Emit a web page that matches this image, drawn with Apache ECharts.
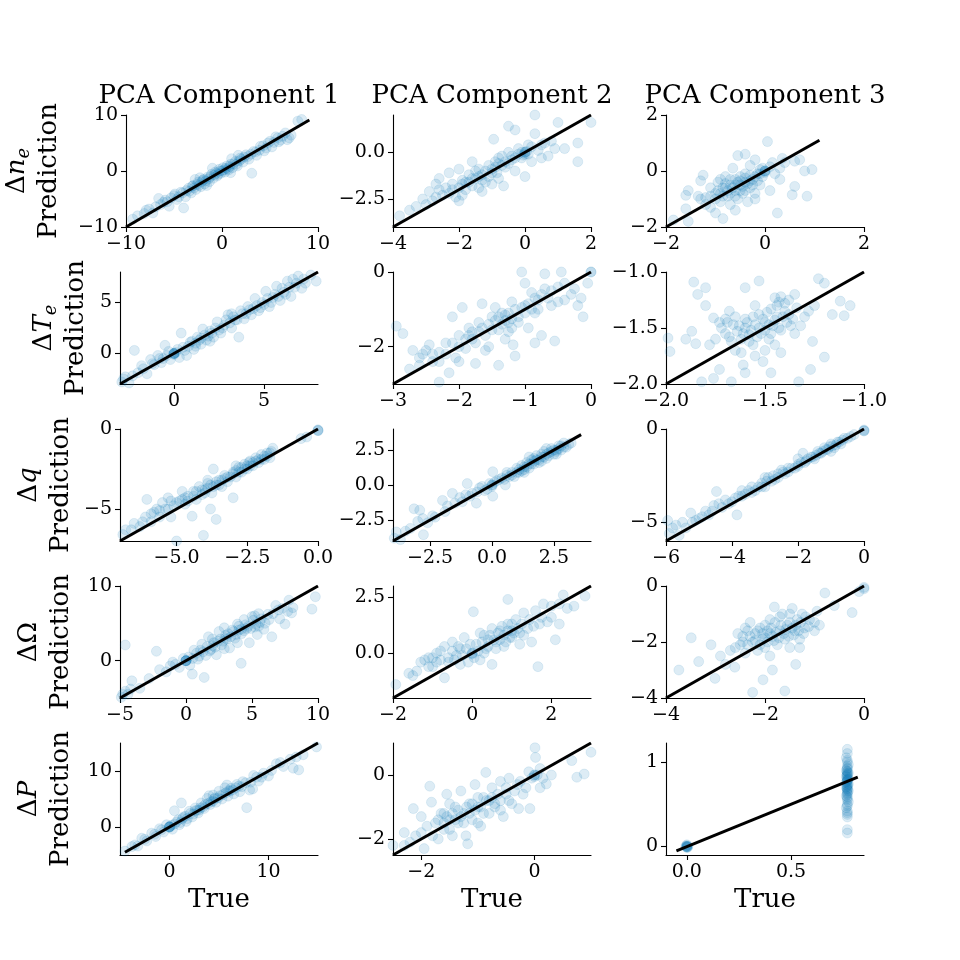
<!DOCTYPE html>
<html>
<head>
<meta charset="utf-8">
<script src="https://cdn.jsdelivr.net/npm/echarts@6/dist/echarts.min.js"></script>
<style>
  html, body { margin: 0; padding: 0; background: #fff; }
  #chart { width: 960px; height: 960px; }
</style>
</head>
<body>
<div id="chart"></div>
<script>
// column titles and row quantities
const colTitles = ['PCA Component 1', 'PCA Component 2', 'PCA Component 3']
const rowSymbols = ['n_e', 'T_e', 'q', 'Ω', 'P']

// [true, prediction] pairs (row = quantity, col = component)
const ne_pc1 = [[-9.3,-8.6],[-8.1,-7.6],[-7.6,-6.8],[-7.2,-7.5],[-6.6,-4.9],[-6.4,-6.0],[-5.9,-5.2],[-5.5,-6.3],[-5.0,-4.4],[-4.7,-5.1],[-4.3,-3.8],[-4.0,-6.6],[-3.8,-4.6],[-3.5,-3.1],[-3.2,-3.9],[-3.0,-2.6],[-2.8,-1.5],[-2.7,-3.3],[-2.5,-2.0],[-2.2,-2.8],[-2.0,-1.6],[-1.8,-2.3],[-1.5,-1.1],[-1.3,-1.9],[-1.1,-0.6],[-1.0,0.5],[-0.9,-1.3],[-0.7,-0.2],[-0.5,-0.9],[-0.3,0.3],[-0.1,-0.4],[0.0,0.0],[0.1,0.6],[0.3,-0.2],[0.5,0.9],[0.7,0.2],[0.9,1.2],[1.0,2.2],[1.1,0.6],[1.4,1.7],[1.6,0.9],[1.9,2.3],[2.2,1.6],[2.5,2.9],[2.8,2.1],[3.1,-0.4],[3.3,3.5],[3.6,2.8],[4.0,4.4],[4.4,3.6],[4.8,5.0],[5.2,4.3],[5.6,6.1],[5.9,5.2],[6.3,6.2],[6.8,5.6],[7.2,6.4],[7.9,8.9],[8.3,9.2],
  [-8.8,-8.0],[-7.9,-7.0],[-6.9,-6.4],[-6.1,-5.6],[-5.7,-5.5],[-5.3,-4.8],[-4.9,-4.1],[-4.5,-4.6],[-4.1,-3.9],[-3.7,-3.5],[-3.4,-3.6],[-3.1,-2.7],[-2.9,-3.0],[-2.6,-2.4],[-2.4,-2.6],[-2.1,-1.9],[-1.9,-1.5],[-1.7,-1.8],[-1.4,-1.4],[-1.2,-1.0],[-0.8,-0.7],[-0.6,-0.4],[-0.4,-0.6],[-0.2,0.0],[0.2,0.2],[0.4,0.5],[0.6,0.4],[0.8,0.8],[1.2,1.3],[1.5,1.2],[1.8,1.8],[2.0,2.1],[2.3,2.5],[2.7,2.6],[3.0,3.0],[3.5,3.4],[3.9,3.7],[4.3,4.5],[4.6,4.1],[5.0,5.3],[5.4,5.1],[5.8,5.9],[6.1,5.5],[6.6,6.8],[7.0,5.9],[-2.3,-1.2],[-1.6,-2.6],[0.9,-0.3],[1.7,2.8]]
const ne_pc2 = [[-3.8,-3.4],[-3.5,-3.1],[-3.3,-2.9],[-3.1,-2.5],[-2.9,-2.1],[-2.8,-2.6],[-2.6,-1.4],[-2.5,-2.3],[-2.4,-1.9],[-2.3,-1.1],[-2.2,-1.7],[-2.1,-2.4],[-2.0,-2.6],[-2.0,-0.9],[-1.9,-1.5],[-1.8,-2.0],[-1.7,-1.2],[-1.6,-0.5],[-1.6,-1.8],[-1.5,-1.4],[-1.4,-0.9],[-1.3,-2.1],[-1.3,-1.2],[-1.2,-1.6],[-1.1,-0.7],[-1.0,-1.1],[-1.0,-1.7],[-0.95,0.7],[-0.9,-0.5],[-0.8,-1.4],[-0.7,-0.2],[-0.65,-1.8],[-0.6,-0.8],[-0.5,0.0],[-0.5,1.4],[-0.4,-0.4],[-0.3,1.2],[-0.3,-1.0],[-0.2,0.2],[-0.1,-0.3],[0.0,0.0],[0.0,0.0],[0.0,-0.1],[0.0,-1.3],[0.1,0.4],[0.2,-0.5],[0.3,1.0],[0.3,2.0],[0.4,0.1],[0.6,0.5],[0.7,-0.2],[0.9,0.2],[1.0,1.6],[1.2,0.2],[1.6,0.5],[1.6,-0.5],[2.0,1.6],
  [-3.0,-2.8],[-2.7,-2.4],[-2.6,-2.0],[-2.3,-2.2],[-2.2,-2.0],[-2.0,-1.9],[-1.9,-1.7],[-1.8,-1.6],[-1.7,-1.6],[-1.6,-1.4],[-1.5,-1.0],[-1.4,-1.3],[-1.3,-1.5],[-1.2,-1.0],[-1.1,-1.3],[-1.0,-0.9],[-0.9,-0.8],[-0.85,-1.1],[-0.8,-0.6],[-0.7,-0.7],[-0.6,-0.5],[-0.5,-0.6],[-0.4,-0.2],[-0.3,-0.3],[-0.2,-0.1],[-0.1,0.0],[-0.05,-0.15],[0.05,0.05],[0.1,-0.1],[0.2,0.3],[0.5,0.4],[0.5,-0.3],[-2.7,-1.7],[-1.9,-2.3],[-1.4,-1.9],[-0.8,-0.3],[0.8,0.6]]
const ne_pc3 = [[-1.85,-1.75],[-1.55,-1.8],[-1.6,-1.35],[-1.6,-0.87],[-1.55,-0.7],[-1.35,-0.9],[-1.3,-0.35],[-1.25,-0.15],[-1.3,-1.0],[-1.2,-0.95],[-1.1,-0.6],[-1.0,-1.5],[-1.0,-0.8],[-0.95,-0.4],[-0.9,-1.1],[-0.85,-1.7],[-0.85,-0.6],[-0.8,-0.2],[-0.75,-0.9],[-0.7,-0.5],[-0.7,-1.2],[-0.65,0.1],[-0.6,-0.7],[-0.6,-0.3],[-0.6,-1.4],[-0.55,0.55],[-0.55,-1.0],[-0.5,-0.5],[-0.5,-0.2],[-0.45,-0.8],[-0.4,0.6],[-0.4,-0.4],[-0.4,-0.1],[-0.35,-1.1],[-0.3,-0.6],[-0.3,0.2],[-0.25,-0.3],[-0.2,0.4],[-0.2,-0.8],[-0.15,-0.1],[-0.1,-0.5],[-0.05,0.1],[0.0,0.0],[0.0,0.0],[0.0,-0.05],[0.05,1.05],[0.1,-0.7],[0.15,0.3],[0.25,-1.5],[0.3,0.1],[0.35,0.45],[0.55,-0.85],[0.6,-0.55],[0.7,0.4],[0.8,0.0],[0.85,-0.9],[0.95,0.05],
  [-1.2,-1.2],[-1.1,-0.9],[-1.0,-1.0],[-0.95,-0.7],[-0.9,-0.8],[-0.85,-0.9],[-0.8,-0.6],[-0.8,-0.45],[-0.75,-0.7],[-0.7,-0.8],[-0.7,-0.3],[-0.65,-0.6],[-0.6,-0.9],[-0.6,-0.5],[-0.55,-0.4],[-0.5,-0.7],[-0.5,-0.35],[-0.45,-0.55],[-0.4,-0.25],[-0.4,-0.7],[-0.35,-0.45],[-0.3,-0.35],[-0.3,-0.15],[-0.25,-0.5],[-0.2,-0.2],[-0.15,-0.35],[-0.1,-0.1],[-0.1,0.05],[-0.05,-0.2],[0.0,0.0],[0.1,0.15],[0.2,-0.1],[-0.9,-0.3],[-1.1,-1.3],[-0.2,-1.0],[0.4,0.3],[0.6,0.35],[0.3,-0.3]]
const te_pc1 = [[-2.9,-2.8],[-2.7,-2.3],[-2.5,-2.9],[-2.2,0.3],[-2.0,-1.9],[-1.7,-1.5],[-1.5,-2.0],[-1.3,-0.6],[-1.1,-1.1],[-0.9,-0.2],[-0.7,-0.9],[-0.5,0.8],[-0.4,-0.2],[-0.2,-0.6],[0.0,0.0],[0.0,0.0],[0.0,-0.1],[0.1,0.1],[0.3,-0.4],[0.4,2.0],[0.5,0.6],[0.7,-0.2],[0.9,1.1],[1.1,0.4],[1.2,1.0],[1.3,1.6],[1.5,0.9],[1.6,2.4],[1.8,1.3],[2.0,2.2],[2.2,1.6],[2.4,3.1],[2.6,2.0],[2.8,2.8],[2.9,3.3],[3.0,3.8],[3.2,2.5],[3.4,3.3],[3.6,1.6],[3.7,4.2],[3.9,3.4],[4.1,4.6],[4.3,3.8],[4.4,4.4],[4.5,5.4],[4.7,4.2],[4.9,5.0],[5.1,6.1],[5.3,4.6],[5.5,5.5],[5.7,6.6],[5.9,5.2],[6.1,6.0],[6.3,7.1],[6.5,5.6],[6.7,6.5],[6.9,7.6],[7.1,6.4],[7.3,6.9],[7.9,7.1],
  [-2.8,-2.5],[-2.3,-2.2],[-1.8,-1.2],[-1.2,-1.0],[-0.8,-0.5],[-0.6,-0.5],[-0.3,0.2],[0.0,0.0],[0.0,0.0],[0.2,0.4],[0.6,0.3],[0.8,0.7],[1.0,1.2],[1.2,0.7],[1.4,1.3],[1.5,1.5],[1.7,1.8],[1.9,1.7],[2.1,2.0],[2.3,2.5],[2.5,2.3],[2.7,2.5],[3.1,3.0],[3.3,3.6],[3.5,3.3],[3.8,3.9],[4.0,3.9],[4.2,4.3],[4.6,4.7],[4.8,4.5],[5.0,4.8],[5.2,5.4],[5.4,5.0],[5.6,5.8],[5.8,5.6],[6.0,6.4],[6.2,5.8],[6.4,6.5],[6.8,6.9],[7.2,7.3],[7.6,7.7],[6.6,7.3],[3.2,3.9],[2.0,1.2]]
const te_pc2 = [[-2.95,-1.45],[-2.85,-1.65],[-2.75,-2.6],[-2.7,-2.1],[-2.6,-2.5],[-2.55,-2.2],[-2.45,-1.95],[-2.4,-2.4],[-2.3,-2.95],[-2.3,-2.15],[-2.2,-1.9],[-2.15,-2.7],[-2.1,-1.2],[-2.05,-2.3],[-2.0,-1.7],[-2.0,-2.4],[-1.95,-0.95],[-1.9,-2.05],[-1.85,-1.5],[-1.8,-1.8],[-1.75,-2.45],[-1.7,-1.35],[-1.65,-0.85],[-1.6,-1.7],[-1.6,-2.1],[-1.55,-2.0],[-1.5,-1.2],[-1.45,-0.95],[-1.4,-1.55],[-1.4,-2.5],[-1.35,-1.1],[-1.3,-1.8],[-1.25,-1.35],[-1.2,-0.8],[-1.2,-1.5],[-1.18,-1.95],[-1.15,-2.25],[-1.1,-1.2],[-1.05,0.0],[-1.0,-0.9],[-0.95,-1.5],[-0.9,-0.55],[-0.85,-1.1],[-0.8,-0.75],[-0.75,-1.7],[-0.7,-0.05],[-0.7,-0.45],[-0.6,-0.9],[-0.55,-1.85],[-0.5,-0.4],[-0.45,0.0],[-0.4,-0.75],[-0.3,-0.6],[-0.2,-0.9],[-0.12,-1.2],[-0.05,-0.3],[0.0,0.0],[0.0,0.0],
  [-2.6,-2.3],[-2.5,-2.1],[-2.4,-2.2],[-2.3,-2.4],[-2.2,-2.2],[-2.1,-1.9],[-2.0,-2.0],[-1.9,-1.8],[-1.85,-1.7],[-1.8,-1.6],[-1.75,-1.9],[-1.7,-1.6],[-1.65,-1.5],[-1.55,-1.4],[-1.5,-1.55],[-1.45,-1.3],[-1.4,-1.2],[-1.35,-1.4],[-1.3,-1.15],[-1.3,-1.3],[-1.25,-1.1],[-1.2,-1.25],[-1.15,-1.0],[-1.1,-1.35],[-1.05,-0.95],[-1.0,-1.1],[-0.95,-0.85],[-0.9,-1.0],[-0.85,-0.7],[-0.8,-1.0],[-0.75,-0.6],[-0.65,-0.7],[-0.6,-0.5],[-0.5,-0.8],[-0.4,-0.3],[-0.25,-0.45],[-0.15,-0.7],[-1.0,-0.3],[-0.85,-1.9],[-1.25,-1.6]]
const te_pc3 = [[-1.99,-1.59],[-1.98,-1.71],[-1.86,-1.09],[-1.8,-1.14],[-1.84,-1.2],[-1.76,-1.41],[-1.87,-1.53],[-1.85,-1.64],[-1.78,-1.65],[-1.82,-1.98],[-1.76,-1.95],[-1.73,-1.87],[-1.67,-1.98],[-1.6,-1.9],[-1.6,-1.14],[-1.53,-1.08],[-1.33,-1.98],[-1.27,-1.87],[-1.23,-1.06],[-1.2,-1.1],[-1.12,-1.26],[-1.07,-1.3],[-1.1,-1.39],[-1.16,-1.38],[-1.2,-1.76],[-1.26,-1.62],[-1.51,-1.8],[-1.47,-1.9],[-1.61,-1.83],[-1.72,-1.5],[-1.7,-1.42],[-1.68,-1.58],[-1.68,-1.35],[-1.66,-1.47],[-1.64,-1.53],[-1.62,-1.6],[-1.62,-1.72],[-1.6,-1.5],[-1.6,-1.42],[-1.58,-1.56],[-1.56,-1.65],[-1.55,-1.47],[-1.55,-1.3],[-1.53,-1.38],[-1.52,-1.55],[-1.5,-1.45],[-1.5,-1.7],[-1.48,-1.6],[-1.47,-1.33],[-1.46,-1.48],[-1.44,-1.4],[-1.43,-1.27],[-1.42,-1.52],[-1.42,-1.72],[-1.4,-1.35],[-1.39,-1.45],[-1.38,-1.25],[-1.36,-1.42],[-1.35,-1.55],[-1.34,-1.32],
  [-1.7,-1.55],[-1.69,-1.45],[-1.67,-1.62],[-1.65,-1.4],[-1.63,-1.48],[-1.61,-1.55],[-1.59,-1.45],[-1.58,-1.62],[-1.57,-1.52],[-1.56,-1.4],[-1.54,-1.58],[-1.53,-1.5],[-1.51,-1.42],[-1.5,-1.52],[-1.49,-1.36],[-1.48,-1.47],[-1.47,-1.55],[-1.45,-1.43],[-1.44,-1.3],[-1.43,-1.5],[-1.41,-1.4],[-1.4,-1.28],[-1.38,-1.38],[-1.37,-1.48],[-1.45,-1.23],[-1.42,-1.22],[-1.75,-1.6],[-1.73,-1.45],[-1.65,-1.7],[-1.3,-1.4],[-1.32,-1.48],[-1.28,-1.35],[-1.25,-1.3],[-1.55,-1.75],[-1.45,-1.65],[-1.9,-1.6],[-1.8,-1.3],[-1.35,-1.2]]
const q_pc1 = [[-6.9,-6.6],[-6.8,-6.3],[-6.5,-5.9],[-6.3,-6.1],[-6.1,-5.5],[-6.05,-4.4],[-5.9,-5.8],[-5.8,-5.2],[-5.7,-5.0],[-5.6,-5.5],[-5.5,-4.6],[-5.4,-5.0],[-5.3,-4.3],[-5.2,-5.5],[-5.1,-4.8],[-5.0,-7.0],[-4.9,-4.5],[-4.8,-3.9],[-4.7,-4.7],[-4.6,-4.2],[-4.45,-5.45],[-4.4,-3.9],[-4.3,-4.4],[-4.2,-3.6],[-4.1,-4.1],[-4.05,-6.65],[-4.0,-3.8],[-3.9,-3.4],[-3.8,-5.0],[-3.75,-4.0],[-3.7,-2.5],[-3.6,-5.65],[-3.6,-3.5],[-3.5,-3.2],[-3.4,-3.6],[-3.3,-2.9],[-3.2,-3.3],[-3.0,-4.3],[-3.0,-2.7],[-2.9,-3.0],[-2.9,-2.3],[-2.8,-2.4],[-2.7,-2.7],[-2.6,-2.2],[-2.5,-2.5],[-2.4,-2.0],[-2.3,-2.3],[-2.2,-1.8],[-2.1,-2.1],[-2.0,-1.6],[-1.9,-1.9],[-1.8,-1.5],[-1.7,-1.8],[-1.6,-1.2],[-0.6,-0.6],[-0.4,-0.5],[0.0,-0.1],[0.0,-0.1],[0.0,-0.05],
  [-6.6,-6.3],[-6.2,-5.8],[-5.9,-5.3],[-5.6,-5.1],[-5.3,-5.0],[-5.0,-4.6],[-4.8,-4.4],[-4.6,-4.5],[-4.4,-4.2],[-4.3,-3.9],[-4.1,-3.8],[-4.0,-4.0],[-3.9,-3.7],[-3.8,-3.5],[-3.7,-3.6],[-3.6,-3.3],[-3.5,-3.5],[-3.4,-3.2],[-3.3,-3.1],[-3.2,-3.0],[-3.1,-3.0],[-3.0,-2.8],[-2.9,-2.6],[-2.8,-2.7],[-2.7,-2.4],[-2.6,-2.5],[-2.5,-2.3],[-2.4,-2.3],[-2.3,-2.1],[-2.2,-2.0],[-2.1,-1.9],[-2.0,-1.9],[-1.9,-1.7],[-1.8,-1.7],[-1.7,-1.5],[-1.65,-1.4],[-3.9,-3.2],[-4.7,-4.3],[-5.2,-4.5],[-2.45,-2.1]]
const q_pc2 = [[-3.95,-3.8],[-3.87,-3.35],[-3.7,-3.9],[-3.5,-3.3],[-3.15,-1.7],[-3.0,-2.6],[-2.92,-1.8],[-2.8,-2.4],[-2.77,-3.55],[-2.6,-2.7],[-2.4,-2.2],[-2.0,-1.1],[-1.8,-1.5],[-1.6,-0.6],[-1.5,-1.3],[-1.3,-0.9],[-1.06,-0.7],[-1.0,0.1],[-0.8,-0.6],[-0.63,-1.3],[-0.5,-0.2],[-0.3,-0.4],[-0.1,0.1],[0.0,0.0],[0.0,0.0],[0.0,-0.1],[0.03,0.95],[0.03,-0.8],[0.2,0.3],[0.4,0.5],[0.54,0.0],[0.6,0.7],[0.8,0.9],[0.9,0.6],[1.0,1.2],[1.1,0.9],[1.2,1.4],[1.3,1.1],[1.4,1.6],[1.5,1.2],[1.5,2.0],[1.6,1.8],[1.7,1.5],[1.8,2.1],[1.9,1.6],[2.0,2.0],[2.0,1.7],[2.1,2.4],[2.2,1.9],[2.3,2.3],[2.4,2.6],[2.5,2.2],[2.6,2.5],[2.7,2.8],[2.8,2.5],[2.9,3.0],[3.0,2.7],
  [-3.3,-3.1],[-2.3,-2.3],[-1.9,-1.9],[-1.2,-1.2],[-0.9,-0.8],[-0.6,-0.5],[-0.4,-0.1],[-0.2,-0.3],[0.1,0.2],[0.3,0.4],[0.5,0.4],[0.7,0.6],[0.8,0.7],[1.0,0.9],[1.1,1.1],[1.2,1.0],[1.3,1.3],[1.4,1.3],[1.5,1.5],[1.6,1.5],[1.7,1.7],[1.8,1.8],[1.9,1.8],[2.0,2.2],[2.1,2.0],[2.2,2.2],[2.3,2.1],[2.4,2.4],[2.5,2.5],[2.6,2.4],[2.7,2.6],[2.8,2.8],[2.9,2.7],[3.1,2.9],[3.2,3.0],[1.7,1.9],[2.2,2.6],[1.3,0.9],[2.6,2.2],[0.6,0.9]]
const q_pc3 = [[-5.95,-4.9],[-5.9,-5.6],[-5.7,-5.15],[-5.6,-5.7],[-5.4,-5.3],[-5.25,-4.5],[-5.2,-5.0],[-5.0,-4.8],[-4.9,-4.7],[-4.7,-4.6],[-4.55,-4.1],[-4.47,-3.35],[-4.3,-4.2],[-4.2,-3.8],[-4.0,-3.9],[-3.85,-4.6],[-3.8,-3.6],[-3.7,-3.3],[-3.6,-3.5],[-3.4,-3.1],[-3.3,-3.3],[-3.1,-2.9],[-3.0,-3.1],[-2.9,-2.6],[-2.7,-2.7],[-2.6,-2.4],[-2.5,-2.2],[-2.4,-2.4],[-2.3,-2.1],[-2.1,-2.1],[-2.0,-1.9],[-1.85,-1.3],[-1.8,-1.8],[-1.6,-1.5],[-1.5,-1.6],[-1.4,-1.2],[-1.3,-1.3],[-1.2,-1.0],[-1.1,-1.1],[-1.0,-0.8],[-0.9,-1.0],[-0.8,-0.7],[-0.7,-0.8],[-0.6,-0.5],[-0.5,-0.5],[-0.3,-0.3],[0.0,-0.1],[0.0,-0.1],[0.0,-0.05],
  [-5.8,-5.3],[-5.5,-5.0],[-5.1,-4.9],[-4.8,-4.4],[-4.6,-4.4],[-4.4,-4.0],[-4.1,-4.0],[-3.9,-3.7],[-3.7,-3.6],[-3.5,-3.3],[-3.4,-3.4],[-3.2,-3.1],[-3.1,-3.1],[-2.95,-2.8],[-2.8,-2.8],[-2.75,-2.5],[-2.6,-2.6],[-2.45,-2.3],[-2.3,-2.3],[-2.2,-2.1],[-2.0,-2.0],[-1.9,-1.8],[-1.75,-1.7],[-1.7,-1.6],[-1.55,-1.5],[-1.45,-1.4],[-1.35,-1.3],[-1.25,-1.2],[-1.15,-1.1],[-1.05,-0.95],[-0.95,-0.9],[-0.85,-0.85],[-0.75,-0.7],[-0.65,-0.6],[-0.4,-0.4],[-3.0,-2.6],[-2.0,-1.6],[-1.0,-1.2]]
const om_pc1 = [[-4.9,-4.9],[-4.6,-4.1],[-4.6,2.1],[-4.4,-4.5],[-4.1,-2.7],[-3.5,-3.7],[-2.8,-2.4],[-2.24,1.26],[-2.0,-1.2],[-1.5,-1.5],[-1.0,-0.2],[-0.5,-0.9],[-0.2,0.3],[0.0,0.0],[0.0,0.0],[0.0,0.0],[0.3,-0.6],[0.48,-1.8],[0.6,1.4],[0.9,0.2],[1.2,2.2],[1.38,-2.25],[1.5,0.7],[1.7,3.2],[1.9,1.5],[2.0,2.9],[2.1,2.4],[2.3,0.8],[2.5,3.9],[2.7,2.1],[2.9,4.4],[3.0,3.4],[3.1,2.9],[3.3,1.7],[3.5,4.1],[3.7,3.0],[3.9,4.9],[4.0,4.1],[4.18,-0.36],[4.2,3.6],[4.4,5.5],[4.6,4.3],[4.8,2.4],[5.0,5.9],[5.2,4.5],[5.4,3.5],[5.5,6.3],[5.6,5.1],[5.9,4.2],[6.2,6.2],[6.5,3.2],[6.8,7.4],[7.1,5.6],[7.5,4.9],[7.8,8.1],[8.0,6.4],[9.54,6.9],[9.8,8.56],
  [-4.8,-4.5],[-4.2,-3.8],[-1.2,-0.7],[-0.8,-0.5],[0.0,0.0],[0.0,0.0],[0.2,0.5],[0.5,0.3],[0.8,1.0],[1.0,0.6],[1.1,1.4],[1.3,1.2],[1.6,1.9],[1.8,1.3],[2.0,2.0],[2.2,1.8],[2.4,2.6],[2.6,2.9],[2.8,2.6],[3.0,3.0],[3.2,3.6],[3.4,3.2],[3.6,3.9],[3.8,3.5],[4.0,4.6],[4.2,4.2],[4.4,4.0],[4.5,4.8],[4.7,4.6],[4.9,4.3],[5.1,5.4],[5.3,4.9],[5.5,4.6],[5.7,5.6],[6.0,5.0],[6.3,5.5],[6.6,6.3],[7.0,6.8],[7.3,7.0],[7.7,6.6],[8.1,7.1],[3.9,2.4],[2.9,1.6],[5.2,6.0]]
const om_pc2 = [[-1.93,-1.4],[-1.6,-0.9],[-1.4,-0.8],[-1.3,-0.4],[-1.2,-0.3],[-1.1,-0.2],[-1.0,-0.6],[-0.9,0.0],[-0.8,-0.3],[-0.7,-1.1],[-0.7,0.3],[-0.6,-0.2],[-0.5,0.5],[-0.4,-0.1],[-0.3,0.2],[-0.3,-0.5],[-0.2,0.7],[-0.1,-0.4],[0.0,0.0],[0.0,0.0],[0.0,-0.05],[0.03,1.85],[0.1,0.4],[0.2,-0.3],[0.3,0.8],[0.35,0.2],[0.4,0.6],[0.5,1.1],[0.5,-0.5],[0.6,0.5],[0.7,1.0],[0.8,0.3],[0.9,2.4],[0.9,1.3],[1.0,0.7],[1.0,1.0],[1.1,1.5],[1.2,0.9],[1.3,1.8],[1.4,1.1],[1.5,0.5],[1.6,1.9],[1.66,-0.6],[1.7,1.3],[1.8,2.2],[1.9,1.4],[2.0,2.1],[2.1,0.6],[2.2,1.3],[2.3,2.6],[2.4,2.0],[2.57,2.1],[2.85,2.55],
  [-1.5,-1.0],[-1.1,-0.6],[-0.9,-0.4],[-0.8,0.1],[-0.6,-0.4],[-0.5,0.1],[-0.45,-0.3],[-0.35,0.3],[-0.25,-0.1],[-0.15,0.2],[-0.05,0.4],[0.05,-0.2],[0.15,0.1],[0.25,0.5],[0.3,0.0],[0.4,0.3],[0.45,0.8],[0.55,0.6],[0.6,0.2],[0.65,0.9],[0.7,0.6],[0.75,1.2],[0.8,0.8],[0.85,0.5],[0.9,1.0],[0.95,0.7],[1.0,1.3],[1.05,0.9],[1.15,1.1],[1.25,1.3],[1.3,0.8],[1.45,1.5],[1.55,1.2],[1.75,1.6],[2.0,1.6],[2.2,2.2],[0.2,0.9],[1.2,0.4],[-1.0,-0.2]]
const om_pc3 = [[-3.74,-3.0],[-3.49,-1.85],[-3.34,-2.7],[-3.09,-2.1],[-3.01,-3.3],[-2.9,-2.5],[-2.8,-2.8],[-2.7,-2.3],[-2.61,-2.9],[-2.55,-1.7],[-2.5,-2.1],[-2.45,-1.8],[-2.4,-2.4],[-2.35,-1.6],[-2.3,-1.3],[-2.25,-3.8],[-2.25,-2.0],[-2.2,-1.7],[-2.15,-2.3],[-2.1,-1.5],[-2.05,-1.9],[-2.04,-3.35],[-2.0,-2.2],[-1.95,-1.6],[-1.9,-2.5],[-1.9,-1.2],[-1.85,-3.0],[-1.85,-1.8],[-1.81,-0.75],[-1.8,-1.3],[-1.75,-2.1],[-1.7,-1.6],[-1.65,-1.0],[-1.6,-3.75],[-1.6,-1.9],[-1.55,-1.4],[-1.5,-2.2],[-1.45,-0.8],[-1.4,-1.6],[-1.38,-2.8],[-1.35,-1.2],[-1.3,-1.9],[-1.25,-1.0],[-1.2,-1.5],[-1.1,-1.2],[-1.0,-1.6],[-0.95,-0.9],[-0.79,-0.25],[-0.6,-0.7],[-0.24,-0.95],[-0.1,-0.2],[0.0,-0.1],[0.0,-0.05],
  [-2.6,-2.2],[-2.45,-2.0],[-2.35,-2.1],[-2.3,-1.8],[-2.2,-1.95],[-2.15,-1.6],[-2.1,-2.1],[-2.05,-1.7],[-2.0,-1.85],[-1.95,-2.0],[-1.9,-1.7],[-1.88,-1.5],[-1.82,-1.95],[-1.78,-1.65],[-1.72,-1.85],[-1.68,-1.4],[-1.62,-1.7],[-1.58,-1.55],[-1.52,-1.8],[-1.5,-1.3],[-1.45,-1.5],[-1.42,-1.75],[-1.38,-1.4],[-1.32,-1.6],[-1.28,-1.3],[-1.22,-1.7],[-1.18,-1.1],[-1.12,-1.45],[-1.5,-1.0],[-1.7,-1.1],[-2.0,-1.4],[-2.4,-1.5],[-1.3,-2.2],[-1.0,-1.3],[-0.9,-1.4]]
const p_pc1 = [[-4.5,-4.3],[-3.8,-3.5],[-3.2,-3.4],[-2.8,-2.0],[-2.3,-2.5],[-1.8,-1.1],[-1.4,-1.7],[-1.0,-0.3],[-0.6,-0.9],[-0.3,0.4],[0.0,0.0],[0.0,0.0],[0.0,0.1],[0.3,-0.4],[0.5,2.9],[0.7,0.9],[1.0,0.4],[1.2,4.3],[1.4,1.8],[1.7,1.0],[2.0,2.8],[2.3,1.8],[2.6,3.4],[2.9,2.5],[3.0,3.0],[3.2,4.3],[3.5,3.3],[3.8,5.1],[4.1,4.0],[4.4,5.7],[4.5,5.0],[4.7,4.4],[5.0,6.4],[5.3,5.0],[5.6,7.0],[5.9,5.5],[6.0,6.5],[6.2,6.9],[6.5,5.9],[6.8,7.6],[7.1,6.3],[7.4,8.1],[7.8,3.45],[8.1,6.6],[8.5,9.2],[9.0,8.2],[9.5,9.6],[10.0,9.1],[10.8,11.3],[11.5,10.8],[12.2,12.1],[12.5,10.5],[13.05,10.2],[13.5,12.9],[14.85,14.3],
  [-3.5,-3.2],[-2.5,-2.2],[-1.5,-1.3],[-0.8,-0.5],[0.0,0.0],[0.0,0.0],[0.2,0.3],[0.5,0.5],[0.9,1.3],[1.1,0.8],[1.3,1.5],[1.6,1.9],[1.8,1.5],[2.1,2.4],[2.4,2.3],[2.6,2.9],[2.8,3.0],[3.1,3.4],[3.4,3.6],[3.6,4.0],[3.9,4.2],[4.2,4.5],[4.4,4.6],[4.6,5.2],[4.9,5.2],[5.1,5.6],[5.4,5.8],[5.7,6.1],[6.1,6.4],[6.4,6.6],[6.7,7.0],[7.0,7.3],[7.3,7.2],[7.7,7.9],[8.2,8.0],[8.8,8.9],[9.3,8.9],[10.3,10.1],[11.2,11.5],[12.8,12.5],[5.8,7.5],[4.0,5.6],[8.4,6.8]]
const p_pc2 = [[-2.5,-2.2],[-2.3,-1.8],[-2.2,-2.1],[-2.14,-1.05],[-2.0,-1.8],[-1.95,-2.3],[-1.85,-0.35],[-1.82,-0.85],[-1.75,-1.5],[-1.7,-2.0],[-1.65,-1.2],[-1.6,-1.7],[-1.6,-1.2],[-1.55,-0.6],[-1.5,-1.4],[-1.45,-1.9],[-1.4,-1.0],[-1.35,-1.5],[-1.3,-0.5],[-1.25,-1.2],[-1.21,-1.9],[-1.18,-2.15],[-1.15,-0.9],[-1.1,-1.4],[-1.05,-0.3],[-1.0,-1.0],[-0.95,-1.6],[-0.9,-0.7],[-0.86,0.08],[-0.8,-1.2],[-0.8,-0.8],[-0.75,-0.4],[-0.7,-0.9],[-0.6,-0.2],[-0.55,-1.3],[-0.5,-0.6],[-0.45,-0.1],[-0.4,-0.9],[-0.3,-0.3],[-0.28,-1.05],[-0.2,-0.6],[-0.1,0.1],[-0.08,-1.05],[0.0,0.0],[0.0,0.0],[0.0,-0.05],[0.01,0.85],[0.02,0.55],[0.1,-0.4],[0.21,-0.28],[0.3,0.0],[0.53,1.07],[0.66,0.45],[0.75,-0.07],[0.88,0.03],[1.0,0.71],
  [-2.3,-2.2],[-2.1,-1.9],[-1.9,-1.6],[-1.8,-1.9],[-1.7,-1.4],[-1.6,-1.5],[-1.55,-1.3],[-1.5,-1.7],[-1.45,-1.2],[-1.4,-1.4],[-1.35,-1.1],[-1.3,-1.3],[-1.25,-1.5],[-1.2,-1.0],[-1.15,-1.2],[-1.1,-0.9],[-1.05,-1.1],[-1.0,-0.7],[-0.95,-1.0],[-0.9,-1.2],[-0.85,-0.8],[-0.75,-0.7],[-0.7,-1.0],[-0.65,-0.6],[-0.6,-0.8],[-0.5,-0.4],[-0.45,-0.8],[-0.35,-0.5],[-0.25,-0.2],[-0.15,-0.4],[-0.05,-0.1],[0.05,0.0],[0.1,0.2],[0.15,-0.1],[-1.5,-0.9],[-1.0,-1.5],[-0.6,-1.1],[-2.0,-1.3]]
const p_pc3 = [[0,0],[0,0],[0,0.01],[0,-0.01],[0,0.02],[0.005,0],[-0.005,0],[0,0],[0.003,-0.01],[0.77,1.15],[0.77,1.1],[0.765,1.05],[0.77,1.02],[0.77,1.0],[0.775,0.97],[0.77,0.95],[0.77,0.93],[0.77,0.92],[0.765,0.9],[0.77,0.89],[0.77,0.88],[0.775,0.87],[0.77,0.86],[0.77,0.85],[0.77,0.84],[0.765,0.83],[0.77,0.82],[0.77,0.8],[0.775,0.8],[0.77,0.79],[0.77,0.78],[0.77,0.77],[0.765,0.76],[0.77,0.75],[0.775,0.74],[0.77,0.73],[0.77,0.72],[0.77,0.71],[0.765,0.7],[0.77,0.69],[0.77,0.68],[0.77,0.67],[0.775,0.66],[0.77,0.65],[0.77,0.63],[0.77,0.62],[0.765,0.6],[0.77,0.59],[0.77,0.57],[0.77,0.55],[0.775,0.53],[0.77,0.5],[0.77,0.48],[0.765,0.46],[0.77,0.42],[0.77,0.4],[0.77,0.38],[0.77,0.35],[0.77,0.2],[0.77,0.16]]

const panelData = [ne_pc1, ne_pc2, ne_pc3, te_pc1, te_pc2, te_pc3, q_pc1, q_pc2, q_pc3, om_pc1, om_pc2, om_pc3, p_pc1, p_pc2, p_pc3]

// axis limits and tick values per panel
const xLimits = [[-10,10],[-4,2],[-2,2],[-3,8],[-3,0],[-2,-1],[-7,0],[-4,4],[-6,0],[-5,10],[-2,3],[-4,0],[-5,15],[-2.5,1],[-0.1,0.85]]
const yLimits = [[-10,10],[-4,2],[-2,2],[-3,8],[-3,0],[-2,-1],[-7,0],[-4,4],[-6,0],[-5,10],[-2,3],[-4,0],[-5,15],[-2.5,1],[-0.1,1.225]]
const xTicks = [[-10,0,10],[-4,-2,0,2],[-2,0,2],[0,5],[-3,-2,-1,0],[-2,-1.5,-1],[-5,-2.5,0],[-2.5,0,2.5],[-6,-4,-2,0],[-5,0,5,10],[-2,0,2],[-4,-2,0],[0,10],[-2,0],[0,0.5]]
const yTicks = [[-10,0,10],[-2.5,0],[-2,0,2],[0,5],[-2,0],[-2,-1.5,-1],[-5,0],[-2.5,0,2.5],[-5,0],[0,10],[0,2.5],[-4,-2,0],[0,10],[-2,0],[0,1]]
// ends of the y = x reference line
const lineEnds = [[-10,9.1],[-4,2],[-2,1.1],[-3,8],[-3,0],[-2,-1],[-7,0],[-4,3.6],[-6,0],[-5,10],[-2,3],[-4,0],[-4.5,15],[-2.5,1],[-0.05,0.82]]

// layout (px)
const gridLeft = [120, 393, 666]
const gridTop = [115, 272, 429, 586, 743]
const gridW = 198
const gridH = 112
const yNameGap = [61, 28, 43, 43, 43]

const FONT = 'DejaVu Serif'

function tickFormatter(ticks) {
  const dec = ticks.some(v => !Number.isInteger(v)) ? 1 : 0
  return v => v.toFixed(dec).replace('-', '\u2212')
}

function rowLabel(sym) {
  const parts = sym.split('_')
  const base = parts[0] === 'Ω' ? parts[0] : '{i|' + parts[0] + '}'
  const sub = parts[1] ? '{s|' + parts[1] + '}' : ''
  return 'Δ' + base + sub + '\nPrediction'
}

function axisCommon(ticks) {
  return {
    type: 'value',
    axisLine: { show: true, onZero: false, lineStyle: { color: '#000', width: 1.1 } },
    axisTick: { show: true, length: 5, customValues: ticks, lineStyle: { color: '#000', width: 1.1 } },
    axisLabel: {
      customValues: ticks,
      formatter: tickFormatter(ticks),
      margin: 8,
      fontFamily: FONT,
      fontSize: 19,
      color: '#000'
    },
    splitLine: { show: false }
  }
}

const grids = []
const xAxes = []
const yAxes = []
const series = []
const graphics = []

for (let r = 0; r < 5; r++) {
  for (let c = 0; c < 3; c++) {
    const i = r * 3 + c
    grids.push({ left: gridLeft[c], top: gridTop[r], width: gridW, height: gridH, containLabel: false })

    const xa = Object.assign(axisCommon(xTicks[i]), {
      gridIndex: i, min: xLimits[i][0], max: xLimits[i][1]
    })
    if (r === 4) {
      Object.assign(xa, {
        name: 'True', nameLocation: 'middle', nameGap: 32,
        nameTextStyle: { fontFamily: FONT, fontSize: 26, color: '#000' }
      })
    }
    xAxes.push(xa)

    const ya = Object.assign(axisCommon(yTicks[i]), {
      gridIndex: i, min: yLimits[i][0], max: yLimits[i][1]
    })
    if (c === 0) {
      Object.assign(ya, {
        name: rowLabel(rowSymbols[r]), nameLocation: 'middle', nameRotate: 90, nameGap: yNameGap[r],
        nameTextStyle: {
          fontFamily: FONT, fontSize: 26, color: '#000', lineHeight: 32,
          rich: {
            i: { fontFamily: FONT, fontStyle: 'italic', fontSize: 26, color: '#000', lineHeight: 32 },
            s: { fontFamily: FONT, fontStyle: 'italic', fontSize: 18, color: '#000', verticalAlign: 'bottom', lineHeight: 32 }
          }
        }
      })
    }
    yAxes.push(ya)

    series.push({
      type: 'scatter',
      xAxisIndex: i,
      yAxisIndex: i,
      data: panelData[i],
      symbolSize: 10,
      itemStyle: { color: 'rgba(1,115,178,0.17)', borderColor: 'rgba(1,115,178,0.13)', borderWidth: 1 },
      silent: true,
      z: 2
    })
    series.push({
      type: 'line',
      xAxisIndex: i,
      yAxisIndex: i,
      data: [[lineEnds[i][0], lineEnds[i][0]], [lineEnds[i][1], lineEnds[i][1]]],
      symbol: 'none',
      lineStyle: { color: '#000', width: 3 },
      silent: true,
      z: 3
    })
  }
}

colTitles.forEach((t, c) => {
  graphics.push({
    type: 'text',
    x: gridLeft[c] + gridW / 2,
    y: gridTop[0] - 6,
    style: { text: t, fontFamily: FONT, fontSize: 26, fill: '#000', align: 'center', verticalAlign: 'bottom' }
  })
})

const chart = echarts.init(document.getElementById('chart'), null, { renderer: 'canvas' })
chart.setOption({
  animation: false,
  backgroundColor: '#fff',
  grid: grids,
  xAxis: xAxes,
  yAxis: yAxes,
  series: series,
  graphic: graphics
})
</script>
</body>
</html>
